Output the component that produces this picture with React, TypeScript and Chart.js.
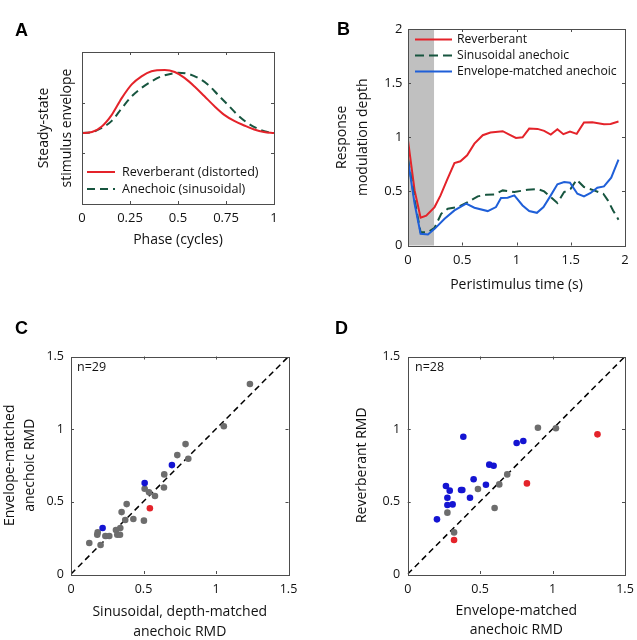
import React, { useEffect, useRef } from "react";
import { Chart, registerables } from "chart.js";

Chart.register(...registerables);

const FONT = "'Open Sans', 'DejaVu Sans', sans-serif";
const LETTER_FONT = "bold 18px 'Liberation Sans', Arial, sans-serif";
const TEXT = "#111111";
const AXIS = "#4d4d4d";

const RED = "#e4232a";
const GREEN = "#17553f";
const BLUE_LINE = "#1f5fd8";
const DOT_GRAY = "#6d6d6d";
const DOT_BLUE = "#1414d2";
const DOT_RED = "#e4232a";

// ---------- Panel A : steady-state stimulus envelope ----------
const phaseReverb = [0, 0.052, 0.103, 0.155, 0.207, 0.259, 0.31, 0.362, 0.431, 0.483, 0.534, 0.586, 0.638, 0.69, 0.741, 0.793, 0.845, 0.897, 0.948, 1];
const envReverb = [1.4, 1.42, 1.53, 1.76, 2.09, 2.36, 2.52, 2.62, 2.645, 2.605, 2.49, 2.32, 2.125, 1.93, 1.76, 1.64, 1.55, 1.47, 1.42, 1.4];
const phaseAnechoic = [0, 0.052, 0.103, 0.155, 0.207, 0.259, 0.31, 0.362, 0.414, 0.466, 0.5, 0.552, 0.603, 0.655, 0.707, 0.759, 0.81, 0.862, 0.914, 0.966, 1];
const envAnechoic = [1.4, 1.42, 1.5, 1.64, 1.89, 2.125, 2.29, 2.42, 2.52, 2.57, 2.59, 2.57, 2.49, 2.36, 2.16, 1.96, 1.76, 1.6, 1.49, 1.42, 1.4];
const labelsA = ["Reverberant (distorted)", "Anechoic (sinusoidal)"];

// ---------- Panel B : response modulation depth over time ----------
const timeReverb = [0, 0.061, 0.116, 0.168, 0.245, 0.3, 0.361, 0.428, 0.483, 0.545, 0.612, 0.689, 0.76, 0.873, 0.934, 0.995, 1.056, 1.117, 1.194, 1.255, 1.316, 1.377, 1.432, 1.493, 1.555, 1.622, 1.699, 1.806, 1.867, 1.94];
const depthReverb = [0.972, 0.509, 0.256, 0.275, 0.355, 0.463, 0.608, 0.762, 0.778, 0.833, 0.941, 1.019, 1.043, 1.056, 1.025, 0.994, 1.0, 1.08, 1.077, 1.059, 1.025, 1.074, 1.028, 1.052, 1.031, 1.136, 1.139, 1.12, 1.123, 1.145];
const timeSinus = [0, 0.061, 0.116, 0.184, 0.245, 0.306, 0.367, 0.459, 0.551, 0.643, 0.72, 0.796, 0.873, 0.98, 1.102, 1.194, 1.255, 1.316, 1.377, 1.439, 1.5, 1.555, 1.622, 1.714, 1.8, 1.842, 1.89, 1.94];
const depthSinus = [0.802, 0.417, 0.123, 0.123, 0.164, 0.293, 0.34, 0.355, 0.401, 0.454, 0.469, 0.472, 0.509, 0.494, 0.515, 0.522, 0.5, 0.448, 0.392, 0.494, 0.525, 0.608, 0.54, 0.509, 0.478, 0.417, 0.324, 0.238];
const timeEnvMatched = [0, 0.061, 0.116, 0.184, 0.245, 0.337, 0.428, 0.536, 0.612, 0.735, 0.811, 0.857, 0.918, 0.98, 1.056, 1.117, 1.188, 1.249, 1.316, 1.377, 1.439, 1.493, 1.561, 1.622, 1.683, 1.745, 1.806, 1.873, 1.94];
const depthEnvMatched = [0.787, 0.386, 0.108, 0.102, 0.154, 0.247, 0.324, 0.386, 0.349, 0.318, 0.355, 0.438, 0.441, 0.463, 0.37, 0.318, 0.302, 0.355, 0.463, 0.565, 0.586, 0.58, 0.478, 0.454, 0.485, 0.534, 0.546, 0.627, 0.793];
const shadeWindow = [0, 0.24];
const labelsB = ["Reverberant", "Sinusoidal anechoic", "Envelope-matched anechoic"];

// ---------- Panel C : envelope-matched vs sinusoidal RMD ----------
const cGrayX = [1.234, 1.054, 0.79, 0.733, 0.809, 0.643, 0.641, 0.508, 0.538, 0.579, 0.384, 0.349, 0.374, 0.43, 0.503, 0.34, 0.31, 0.319, 0.338, 0.184, 0.181, 0.237, 0.264, 0.204, 0.126];
const cGrayY = [1.31, 1.019, 0.896, 0.82, 0.795, 0.687, 0.597, 0.588, 0.563, 0.538, 0.482, 0.427, 0.372, 0.379, 0.368, 0.317, 0.303, 0.271, 0.271, 0.287, 0.271, 0.262, 0.262, 0.2, 0.214];
const cBlueX = [0.696, 0.508, 0.218];
const cBlueY = [0.751, 0.627, 0.317];
const cRedX = [0.544];
const cRedY = [0.453];
const noteC = "n=29";

// ---------- Panel D : reverberant vs envelope-matched RMD ----------
const dGrayX = [0.899, 1.023, 0.687, 0.632, 0.485, 0.274, 0.6, 0.32];
const dGrayY = [1.009, 1.005, 0.687, 0.618, 0.586, 0.423, 0.455, 0.287];
const dBlueX = [0.384, 0.752, 0.798, 0.563, 0.593, 0.54, 0.455, 0.368, 0.377, 0.43, 0.264, 0.29, 0.274, 0.274, 0.31, 0.202];
const dBlueY = [0.947, 0.903, 0.917, 0.754, 0.747, 0.616, 0.653, 0.579, 0.579, 0.526, 0.607, 0.575, 0.526, 0.476, 0.48, 0.377];
const dRedX = [1.31, 0.823, 0.32];
const dRedY = [0.963, 0.625, 0.234];
const noteD = "n=28";

const unityLine = [0, 1.5];

const zip = (xs: number[], ys: number[]) => xs.map((x, i) => ({ x, y: ys[i] }));
const fmt = (v: any) => String(Math.round(Number(v) * 100) / 100);

function axisX(o: any) {
  return {
    type: "linear",
    position: "bottom",
    min: o.min,
    max: o.max,
    ticks: {
      stepSize: o.step,
      padding: o.tickPad,
      color: TEXT,
      font: { family: FONT, size: o.tickSize },
      maxRotation: 0,
      autoSkip: false,
      callback: fmt,
    },
    grid: { display: false, drawTicks: false },
    border: { display: false },
    title: {
      display: true,
      text: o.title,
      color: TEXT,
      font: { family: FONT, size: o.titleSize, lineHeight: o.titleLH + "px" },
      padding: { top: 0, bottom: o.titlePad },
    },
    afterFit: (s: any) => {
      s.height = o.size;
      s.paddingLeft = 0;
      s.paddingRight = 0;
    },
  };
}

function axisY(o: any) {
  return {
    type: "linear",
    position: "left",
    min: o.min,
    max: o.max,
    ticks: {
      display: o.showLabels !== false,
      stepSize: o.step,
      padding: o.tickPad,
      color: TEXT,
      font: { family: FONT, size: o.tickSize },
      autoSkip: false,
      callback: fmt,
    },
    grid: { display: false, drawTicks: false },
    border: { display: false },
    title: {
      display: true,
      text: o.title,
      color: TEXT,
      font: { family: FONT, size: o.titleSize, lineHeight: o.titleLH + "px" },
      padding: { top: o.titlePad, bottom: 0 },
    },
    afterFit: (s: any) => {
      s.width = o.size;
      s.paddingTop = 0;
      s.paddingBottom = 0;
    },
  };
}

function decor(cfg: any) {
  return {
    id: "decor",
    beforeDatasetsDraw(chart: any) {
      if (!cfg.shade) return;
      const { ctx, chartArea: a, scales } = chart;
      const x0 = scales.x.getPixelForValue(cfg.shade[0]);
      const x1 = scales.x.getPixelForValue(cfg.shade[1]);
      ctx.save();
      ctx.fillStyle = "#c0c0c0";
      ctx.fillRect(x0, a.top, x1 - x0, a.bottom - a.top);
      ctx.restore();
    },
    afterDatasetsDraw(chart: any) {
      const { ctx, chartArea: a, scales } = chart;
      const tl = 3;
      ctx.save();
      ctx.strokeStyle = AXIS;
      ctx.lineWidth = 1;
      ctx.setLineDash([]);
      ctx.beginPath();
      scales.x.ticks.forEach((t: any) => {
        const p = Math.round(scales.x.getPixelForValue(t.value)) + 0.5;
        if (p <= a.left + 1.5 || p >= a.right - 1.5) return;
        ctx.moveTo(p, a.bottom);
        ctx.lineTo(p, a.bottom - tl);
        ctx.moveTo(p, a.top);
        ctx.lineTo(p, a.top + tl);
      });
      scales.y.ticks.forEach((t: any) => {
        const p = Math.round(scales.y.getPixelForValue(t.value)) + 0.5;
        if (p <= a.top + 1.5 || p >= a.bottom - 1.5) return;
        ctx.moveTo(a.left, p);
        ctx.lineTo(a.left + tl, p);
        ctx.moveTo(a.right, p);
        ctx.lineTo(a.right - tl, p);
      });
      ctx.stroke();
      ctx.strokeRect(
        Math.round(a.left) + 0.5,
        Math.round(a.top) + 0.5,
        Math.round(a.right - a.left),
        Math.round(a.bottom - a.top)
      );
      ctx.restore();
    },
    afterDraw(chart: any) {
      const { ctx } = chart;
      ctx.save();
      if (cfg.legend) {
        const L = cfg.legend;
        const items = chart.data.datasets.filter((d: any) => d.label);
        ctx.font = `${L.size}px ${FONT}`;
        ctx.textBaseline = "middle";
        ctx.textAlign = "left";
        items.forEach((d: any, i: number) => {
          const y = L.y + i * L.dy;
          ctx.strokeStyle = d.borderColor;
          ctx.lineWidth = d.borderWidth || 2;
          ctx.setLineDash(d.borderDash || []);
          ctx.beginPath();
          ctx.moveTo(L.x, y);
          ctx.lineTo(L.x + L.len, y);
          ctx.stroke();
          ctx.setLineDash([]);
          ctx.fillStyle = TEXT;
          ctx.fillText(d.label, L.textX, y + 0.5);
        });
      }
      if (cfg.note) {
        ctx.font = `${cfg.note.size}px ${FONT}`;
        ctx.fillStyle = TEXT;
        ctx.textBaseline = "middle";
        ctx.textAlign = "left";
        ctx.fillText(cfg.note.text, cfg.note.x, cfg.note.y);
      }
      ctx.font = LETTER_FONT;
      ctx.fillStyle = "#000";
      ctx.textBaseline = "alphabetic";
      ctx.textAlign = "left";
      ctx.fillText(cfg.letter, cfg.letterX, cfg.letterY);
      ctx.restore();
    },
  };
}

const baseOptions = (padding: any, scales: any) => ({
  responsive: false,
  animation: false,
  devicePixelRatio: 1,
  layout: { padding },
  plugins: { legend: { display: false }, tooltip: { enabled: false } },
  scales,
});

function buildA() {
  return {
    type: "scatter",
    data: {
      datasets: [
        {
          label: labelsA[0],
          data: zip(phaseReverb, envReverb),
          showLine: true,
          borderColor: RED,
          borderWidth: 2,
          pointRadius: 0,
          cubicInterpolationMode: "monotone",
        },
        {
          label: labelsA[1],
          data: zip(phaseAnechoic, envAnechoic),
          showLine: true,
          borderColor: GREEN,
          borderWidth: 2,
          borderDash: [8, 5],
          pointRadius: 0,
          cubicInterpolationMode: "monotone",
        },
      ],
    },
    options: baseOptions(
      { left: 0, top: 52, right: 46, bottom: 56 },
      {
        x: axisX({ min: 0, max: 1, step: 0.25, tickPad: 6, tickSize: 13, title: "Phase (cycles)", titleSize: 14, titleLH: 17, titlePad: 15.5, size: 60 }),
        y: axisY({ min: 0, max: 3, step: 1, showLabels: false, tickPad: 5, tickSize: 13, title: ["Steady-state", "stimulus envelope"], titleSize: 14, titleLH: 23, titlePad: 32.5, size: 82 }),
      }
    ),
    plugins: [
      decor({
        letter: "A",
        letterX: 15,
        letterY: 36,
        legend: { x: 87, y: 172, dy: 17, len: 28, textX: 122, size: 12.6 },
      }),
    ],
  };
}

function buildB() {
  return {
    type: "scatter",
    data: {
      datasets: [
        {
          label: labelsB[0],
          data: zip(timeReverb, depthReverb),
          showLine: true,
          borderColor: RED,
          borderWidth: 2,
          pointRadius: 0,
          order: 3,
        },
        {
          label: labelsB[1],
          data: zip(timeSinus, depthSinus),
          showLine: true,
          borderColor: GREEN,
          borderWidth: 2,
          borderDash: [9, 5],
          pointRadius: 0,
          order: 2,
        },
        {
          label: labelsB[2],
          data: zip(timeEnvMatched, depthEnvMatched),
          showLine: true,
          borderColor: BLUE_LINE,
          borderWidth: 2,
          pointRadius: 0,
          order: 1,
        },
      ],
    },
    options: baseOptions(
      { left: 0, top: 29, right: 12, bottom: 14.5 },
      {
        x: axisX({ min: 0, max: 2, step: 0.5, tickPad: 6.5, tickSize: 13, title: "Peristimulus time (s)", titleSize: 14, titleLH: 17, titlePad: 12, size: 60 }),
        y: axisY({ min: 0, max: 2, step: 0.5, tickPad: 5.5, tickSize: 13, title: ["Response", "modulation depth"], titleSize: 14, titleLH: 21, titlePad: 12, size: 88 }),
      }
    ),
    plugins: [
      decor({
        letter: "B",
        letterX: 17,
        letterY: 35,
        shade: shadeWindow,
        legend: { x: 95, y: 39.5, dy: 16, len: 37, textX: 137, size: 12.2 },
      }),
    ],
  };
}

function scatterDatasets(gx: number[], gy: number[], bx: number[], by: number[], rx: number[], ry: number[]) {
  const dot = (color: string) => ({
    showLine: false,
    pointRadius: 3.3,
    pointBorderWidth: 0,
    borderWidth: 0,
    backgroundColor: color,
    pointBackgroundColor: color,
    borderColor: color,
  });
  return [
    { data: zip(gx, gy), ...dot(DOT_GRAY), order: 3 },
    { data: zip(bx, by), ...dot(DOT_BLUE), order: 2 },
    { data: zip(rx, ry), ...dot(DOT_RED), order: 1 },
    {
      data: zip(unityLine, unityLine),
      showLine: true,
      borderColor: "#000",
      borderWidth: 1.5,
      borderDash: [6, 4],
      pointRadius: 0,
      order: 10,
    },
  ];
}

function buildC() {
  return {
    type: "scatter",
    data: { datasets: scatterDatasets(cGrayX, cGrayY, cBlueX, cBlueY, cRedX, cRedY) },
    options: baseOptions(
      { left: 0, top: 36.5, right: 31.5, bottom: 0 },
      {
        x: axisX({ min: 0, max: 1.5, step: 0.5, tickPad: 7.5, tickSize: 12.5, title: ["Sinusoidal, depth-matched", "anechoic RMD"], titleSize: 14, titleLH: 20, titlePad: -2, size: 66 }),
        y: axisY({ min: 0, max: 1.5, step: 0.5, tickPad: 7, tickSize: 12.5, title: ["Envelope-matched", "anechoic RMD"], titleSize: 14, titleLH: 20, titlePad: 0, size: 71 }),
      }
    ),
    plugins: [
      decor({ letter: "C", letterX: 15, letterY: 13.5, note: { text: noteC, x: 77, y: 47, size: 12.5 } }),
    ],
  };
}

function buildD() {
  return {
    type: "scatter",
    data: { datasets: scatterDatasets(dGrayX, dGrayY, dBlueX, dBlueY, dRedX, dRedY) },
    options: baseOptions(
      { left: 0, top: 36.5, right: 12, bottom: 0 },
      {
        x: axisX({ min: 0, max: 1.5, step: 0.5, tickPad: 7.5, tickSize: 12.5, title: ["Envelope-matched", "anechoic RMD"], titleSize: 14, titleLH: 19.5, titlePad: -0.25, size: 66 }),
        y: axisY({ min: 0, max: 1.5, step: 0.5, tickPad: 7.5, tickSize: 12.5, title: "Reverberant RMD", titleSize: 14, titleLH: 17, titlePad: 34, size: 87.7 }),
      }
    ),
    plugins: [
      decor({ letter: "D", letterX: 15, letterY: 13.5, note: { text: noteD, x: 95, y: 47, size: 12.5 } }),
    ],
  };
}

function Panel(props: { left: number; top: number; width: number; height: number; build: () => any }) {
  const ref = useRef<HTMLCanvasElement | null>(null);
  useEffect(() => {
    if (!ref.current) return;
    const chart = new Chart(ref.current, props.build() as any);
    return () => chart.destroy();
  }, []);
  return (
    <canvas
      ref={ref}
      width={props.width}
      height={props.height}
      style={{ position: "absolute", left: props.left, top: props.top, width: props.width, height: props.height }}
    />
  );
}

export default function App() {
  return (
    <div
      style={{
        position: "absolute",
        left: 0,
        top: 0,
        width: 637,
        height: 640,
        overflow: "hidden",
        background: "#ffffff",
      }}
    >
      <Panel left={0} top={0} width={320} height={320} build={buildA} />
      <Panel left={320} top={0} width={317} height={320} build={buildB} />
      <Panel left={0} top={320} width={320} height={320} build={buildC} />
      <Panel left={320} top={320} width={317} height={320} build={buildD} />
    </div>
  );
}
